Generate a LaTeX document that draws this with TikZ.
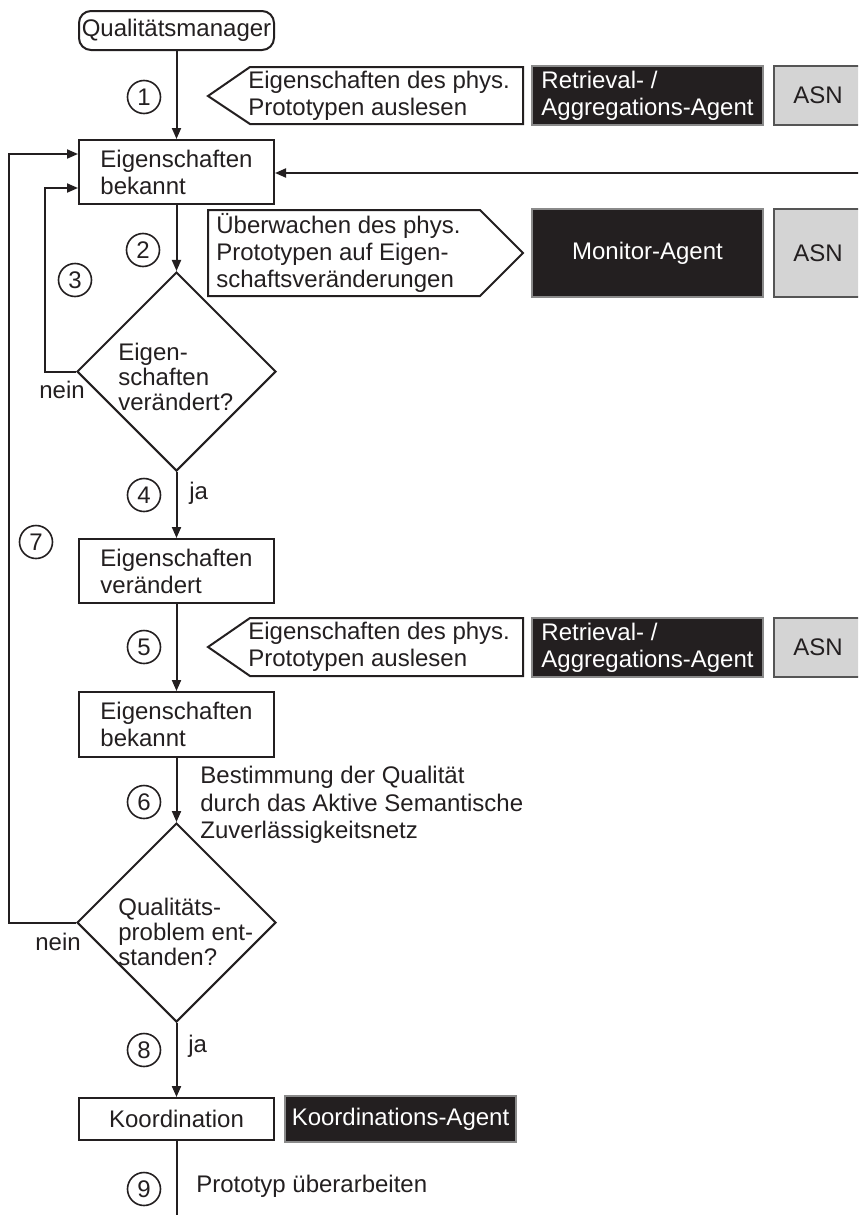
\documentclass[tikz,border=0pt]{standalone}
\usepackage{fontspec}
\setmainfont{Liberation Sans}
\usetikzlibrary{arrows.meta,shapes.geometric}
\definecolor{ink}{HTML}{231F20}
\definecolor{agentfill}{HTML}{231F20}
\definecolor{agentedge}{HTML}{8A8A8A}
\definecolor{asnfill}{HTML}{D4D4D4}
\definecolor{asnedge}{HTML}{555555}
\begin{document}
\begin{tikzpicture}[x=0.5pt,y=-0.5pt,
  txt/.style={font=\fontsize{12}{13.5}\selectfont, text=ink, inner sep=0pt, align=left},
  box/.style={txt, draw=ink, line width=1pt, fill=white, minimum width=97.5pt},
  dia/.style={diamond, draw=ink, line width=1pt, fill=white, inner sep=0pt,
              minimum width=99.5pt, minimum height=99.5pt},
  diatxt/.style={txt, font=\fontsize{12}{12.5}\selectfont, anchor=west},
  agent/.style={txt, fill=agentfill, draw=agentedge, line width=0.6pt, text=white,
                minimum width=115.5pt},
  asn/.style={txt, fill=asnfill, draw=asnedge, line width=0.8pt, minimum width=44pt},
  num/.style={circle, draw=ink, line width=0.8pt, minimum size=16.5pt, inner sep=0pt,
              font=\fontsize{12}{13.5}\selectfont, text=ink},
  callout/.style={draw=ink, line width=1pt, fill=white},
  flow/.style={draw=ink, line width=1pt},
  arr/.style={flow, -{Triangle[length=5.5pt,width=4.5pt]}}
]
\useasboundingbox (0,0) rectangle (858,1215);
\clip (0,0) rectangle (858,1215);

% main flow
\node[box, rounded corners=6pt, minimum height=19.5pt] (qm) at (176.5,30.5) {Qualitätsmanager};
\node[box, minimum height=32pt] (b1) at (176.5,172) {Eigenschaften\\bekannt};
\node[dia] (d1) at (176.5,371.5) {};
\node[diatxt] (d1t) at (118,377) {Eigen-\\schaften\\verändert?};
\node[box, minimum height=32pt] (b2) at (176.5,571) {Eigenschaften\\verändert};
\node[box, minimum height=32.5pt] (b3) at (176.5,724.5) {Eigenschaften\\bekannt};
\node[dia] (d2) at (176.5,922.5) {};
\node[diatxt] (d2t) at (118,932) {Qualitäts-\\problem ent-\\standen?};
\node[box, minimum height=21pt] (ko) at (176.5,1119) {Koordination};

\coordinate (rin) at (880,173);
\coordinate (out) at (176.5,1230);
\coordinate (loopL) at (9,0);
\coordinate (loopI) at (45,0);

\draw[arr] (qm) -- (b1);
\draw[arr] (b1) -- (d1);
\draw[arr] (d1) -- (b2);
\draw[arr] (b2) -- (b3);
\draw[arr] (b3) -- (d2);
\draw[arr] (d2) -- (ko);
\draw[flow] (ko) -- (out);
\draw[arr] (rin) -- (rin -| b1.east);
\draw[arr] (d1.west) -- (d1.west -| loopI) |- ([yshift=-8pt]b1.west);
\draw[arr] (d2.west) -- (d2.west -| loopL) |- ([yshift=9pt]b1.west);

% branch labels
\node[txt] (n1) at (62,390) {nein};
\node[txt] (n2) at (58,942) {nein};
\node[txt, anchor=west] (j1) at (189,493) {ja};
\node[txt, anchor=west] (j2) at (188,1046) {ja};

% step numbers
\node[num] (s1) at (144,97) {1};
\node[num] (s2) at (143,250) {2};
\node[num] (s3) at (75,280) {3};
\node[num] (s4) at (144,495) {4};
\node[num] (s5) at (144,647) {5};
\node[num] (s6) at (144,802) {6};
\node[num] (s7) at (36,542) {7};
\node[num] (s8) at (144,1050) {8};
\node[num] (s9) at (144,1189) {9};

% step 1: reading properties
\draw[callout] (208,96) -- (250,67) -- (523,67) -- (523,124) -- (250,124) -- cycle;
\node[txt, anchor=west] (c1) at (248,95.5) {Eigenschaften des phys.\\Prototypen auslesen};
\node[agent, minimum height=29.5pt] (ra1) at (647.5,95.5) {Retrieval- /\\Aggregations-Agent};
\node[asn, minimum height=29.5pt] (asn1) at (818,95.5) {ASN};

% step 2: monitoring
\draw[callout] (208,210) -- (480,210) -- (523,253) -- (480,296) -- (208,296) -- cycle;
\node[txt, anchor=west] (c2) at (216,253) {Überwachen des phys.\\Prototypen auf Eigen-\\schaftsveränderungen};
\node[agent, minimum height=44pt] (ma) at (647.5,253) {Monitor-Agent};
\node[asn, minimum height=44pt] (asn2) at (818,253) {ASN};

% step 5: reading properties again
\draw[callout] (208,647) -- (250,618) -- (523,618) -- (523,676) -- (250,676) -- cycle;
\node[txt, anchor=west] (c5) at (248,647) {Eigenschaften des phys.\\Prototypen auslesen};
\node[agent, minimum height=29.5pt] (ra2) at (647.5,647.5) {Retrieval- /\\Aggregations-Agent};
\node[asn, minimum height=29.5pt] (asn3) at (818,647.5) {ASN};

% step 6 and 9 descriptions
\node[txt, anchor=west, font=\fontsize{12}{13.75}\selectfont] (c6) at (200,805) {Bestimmung der Qualität\\durch das Aktive Semantische\\Zuverlässigkeitsnetz};
\node[agent, minimum width=115.5pt, minimum height=23pt] (ka) at (400.5,1119) {Koordinations-Agent};
\node[txt, anchor=west] (c9) at (196,1186) {Prototyp überarbeiten};
\end{tikzpicture}
\end{document}
